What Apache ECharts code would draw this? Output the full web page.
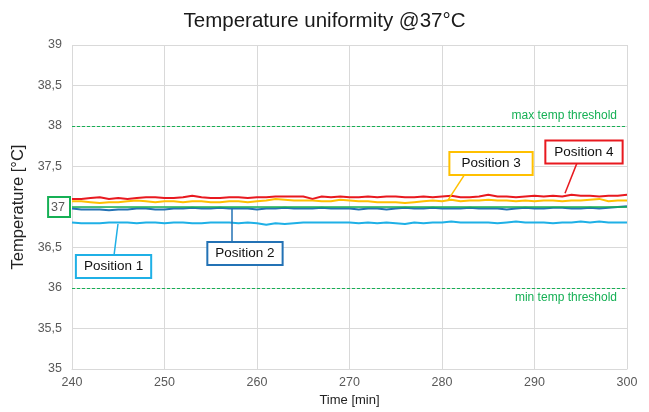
<!DOCTYPE html>
<html><head><meta charset="utf-8">
<script src="https://cdn.jsdelivr.net/npm/echarts@6/dist/echarts.min.js"></script>
<style>html,body{margin:0;padding:0;background:#fff}#c{width:649px;height:412px}</style>
</head><body><div id="c"></div>
<script>
var times = [];
for (var t = 240; t <= 300; t++) times.push(t);
var pos4 = [37.10,37.10,37.11,37.12,37.10,37.11,37.10,37.11,37.12,37.12,37.11,37.11,37.12,37.14,37.12,37.11,37.11,37.12,37.12,37.11,37.12,37.12,37.13,37.13,37.13,37.13,37.10,37.13,37.12,37.13,37.12,37.12,37.13,37.12,37.13,37.13,37.12,37.12,37.13,37.12,37.13,37.14,37.12,37.12,37.13,37.15,37.13,37.13,37.12,37.13,37.14,37.13,37.14,37.13,37.15,37.14,37.14,37.13,37.14,37.14,37.15];
var pos3 = [37.07,37.07,37.06,37.05,37.06,37.06,37.07,37.08,37.07,37.06,37.07,37.07,37.06,37.07,37.07,37.06,37.06,37.07,37.07,37.06,37.07,37.08,37.10,37.09,37.08,37.08,37.08,37.07,37.07,37.09,37.08,37.07,37.07,37.06,37.06,37.06,37.05,37.06,37.07,37.08,37.07,37.09,37.07,37.08,37.08,37.09,37.08,37.08,37.07,37.08,37.07,37.08,37.08,37.07,37.08,37.08,37.09,37.10,37.07,37.08,37.08];
var pos2 = [36.98,36.97,36.97,36.97,36.96,36.97,36.97,36.98,36.98,36.97,36.97,36.98,36.98,36.99,36.98,36.98,36.99,36.98,36.98,36.98,36.97,36.98,36.98,36.99,36.98,36.98,36.98,36.99,36.98,36.98,36.98,36.97,36.98,36.98,36.97,36.98,36.99,36.98,36.98,36.99,36.98,36.98,36.98,36.99,36.98,36.98,36.98,36.97,36.98,36.99,36.98,36.98,36.99,36.99,36.98,36.98,36.99,36.98,36.99,37.00,37.01];
var pos1 = [36.81,36.80,36.80,36.80,36.81,36.81,36.81,36.80,36.81,36.81,36.80,36.81,36.81,36.80,36.80,36.81,36.81,36.81,36.80,36.81,36.80,36.78,36.80,36.79,36.80,36.81,36.81,36.81,36.81,36.81,36.81,36.80,36.81,36.80,36.81,36.80,36.79,36.81,36.80,36.81,36.81,36.82,36.81,36.81,36.81,36.81,36.80,36.81,36.82,36.81,36.81,36.81,36.80,36.81,36.81,36.82,36.81,36.82,36.81,36.81,36.81];
var target = 37, maxThr = 38, minThr = 36;
var yTicks = {min: 35, max: 39, step: 0.5};
var xTicks = {min: 240, max: 300, step: 10};
// callouts: anchor on line, end of leader at box, box center (data units)
var callouts = {
  'Position 1': {anchor: [244.97, 36.79], end: [244.55, 36.41], box: [244.49, 36.265]},
  'Position 2': {anchor: [257.3, 36.975], end: [257.3, 36.57], box: [258.7, 36.426]},
  'Position 3': {anchor: [280.65, 37.086], end: [282.49, 37.41], box: [285.3, 37.537]},
  'Position 4': {anchor: [293.3, 37.17], end: [294.6, 37.545], box: [295.35, 37.68]}
};
var boxPad = {'Position 1': [4, 7, 3, 7], 'Position 2': [4, 7, 3, 7], 'Position 3': [4, 11, 3, 11], 'Position 4': [4, 8, 3, 8]};
var colors = {p1: '#1FB0E6', p2: '#2372B5', p3: '#FFC000', p4: '#E8191F', green: '#16B055'};
var FONT = '"Liberation Sans", Arial, sans-serif';

function pairs(arr) { return times.map(function (t, i) { return [t, arr[i]]; }); }
function mkSeries(name, arr, color) {
  var c = callouts[name];
  return {
    name: name, type: 'line', data: pairs(arr), showSymbol: false, symbol: 'none',
    lineStyle: {color: color, width: 2}, itemStyle: {color: color}, z: 3,
    markLine: {silent: true, symbol: 'none', animation: false,
      lineStyle: {color: color, width: 1.5, type: 'solid'}, label: {show: false},
      data: [[{coord: c.anchor}, {coord: c.end}]]},
    markPoint: {silent: true, animation: false, symbol: 'rect', symbolSize: 1,
      itemStyle: {color: 'rgba(0,0,0,0)'},
      label: {show: true, position: 'inside', formatter: name, color: '#111',
        fontFamily: FONT, fontSize: 13.5, backgroundColor: '#fff', borderColor: color,
        borderWidth: 2, padding: boxPad[name]},
      data: [{coord: c.box}]}
  };
}
var chart = echarts.init(document.getElementById('c'), null, {renderer: 'canvas'});
chart.setOption({
  animation: false,
  backgroundColor: '#fff',
  title: {text: 'Temperature uniformity @37°C', left: 'center', top: 6,
    textStyle: {fontFamily: FONT, fontSize: 20.5, fontWeight: 'normal', color: '#1a1a1a'}},
  grid: {left: 72, right: 22, top: 45, bottom: 43},
  xAxis: {type: 'value', min: xTicks.min, max: xTicks.max, interval: xTicks.step,
    name: 'Time [min]', nameLocation: 'middle', nameGap: 24,
    nameTextStyle: {fontFamily: FONT, fontSize: 13, color: '#222'},
    axisLine: {show: true, lineStyle: {color: '#d9d9d9'}}, axisTick: {show: false},
    axisLabel: {fontFamily: FONT, fontSize: 12.5, color: '#595959', margin: 7},
    splitLine: {show: true, lineStyle: {color: '#d9d9d9'}}},
  yAxis: {type: 'value', min: yTicks.min, max: yTicks.max, interval: yTicks.step,
    name: 'Temperature [°C]', nameLocation: 'middle', nameGap: 42,
    nameTextStyle: {fontFamily: FONT, fontSize: 16.5, color: '#222'},
    axisLine: {show: false}, axisTick: {show: false},
    axisLabel: {fontFamily: FONT, fontSize: 12.5, color: '#595959', margin: 2,
      formatter: function (v) {
        var s = String(v).replace('.', ',');
        return v === target ? '{b|' + s + '}' : '{n|' + s + '}';
      },
      rich: {
        n: {fontFamily: FONT, fontSize: 12.5, color: '#595959', padding: [0, 8, 0, 0]},
        b: {fontFamily: FONT, fontSize: 12.5, color: '#595959', borderColor: colors.green,
          borderWidth: 2, padding: [4, 5, 3, 3]}}},
    splitLine: {show: true, lineStyle: {color: '#d9d9d9'}}},
  series: [
    {name: 'thresholds', type: 'line', data: [], z: 2,
      markLine: {silent: true, symbol: 'none', animation: false,
        data: [
          {yAxis: maxThr, lineStyle: {color: colors.green, type: [3, 2], width: 1.2},
            label: {show: true, position: 'insideEndTop', formatter: 'max temp threshold',
              color: colors.green, fontFamily: FONT, fontSize: 12, distance: [10, 4]}},
          {yAxis: minThr, lineStyle: {color: colors.green, type: [3, 2], width: 1.2},
            label: {show: true, position: 'insideEndBottom', formatter: 'min temp threshold',
              color: colors.green, fontFamily: FONT, fontSize: 12, distance: [10, 4]}},
          {yAxis: target, lineStyle: {color: colors.green, type: 'solid', width: 1.5},
            label: {show: false}}
        ]}},
    mkSeries('Position 1', pos1, colors.p1),
    mkSeries('Position 2', pos2, colors.p2),
    mkSeries('Position 3', pos3, colors.p3),
    mkSeries('Position 4', pos4, colors.p4)
  ]
});
</script></body></html>
